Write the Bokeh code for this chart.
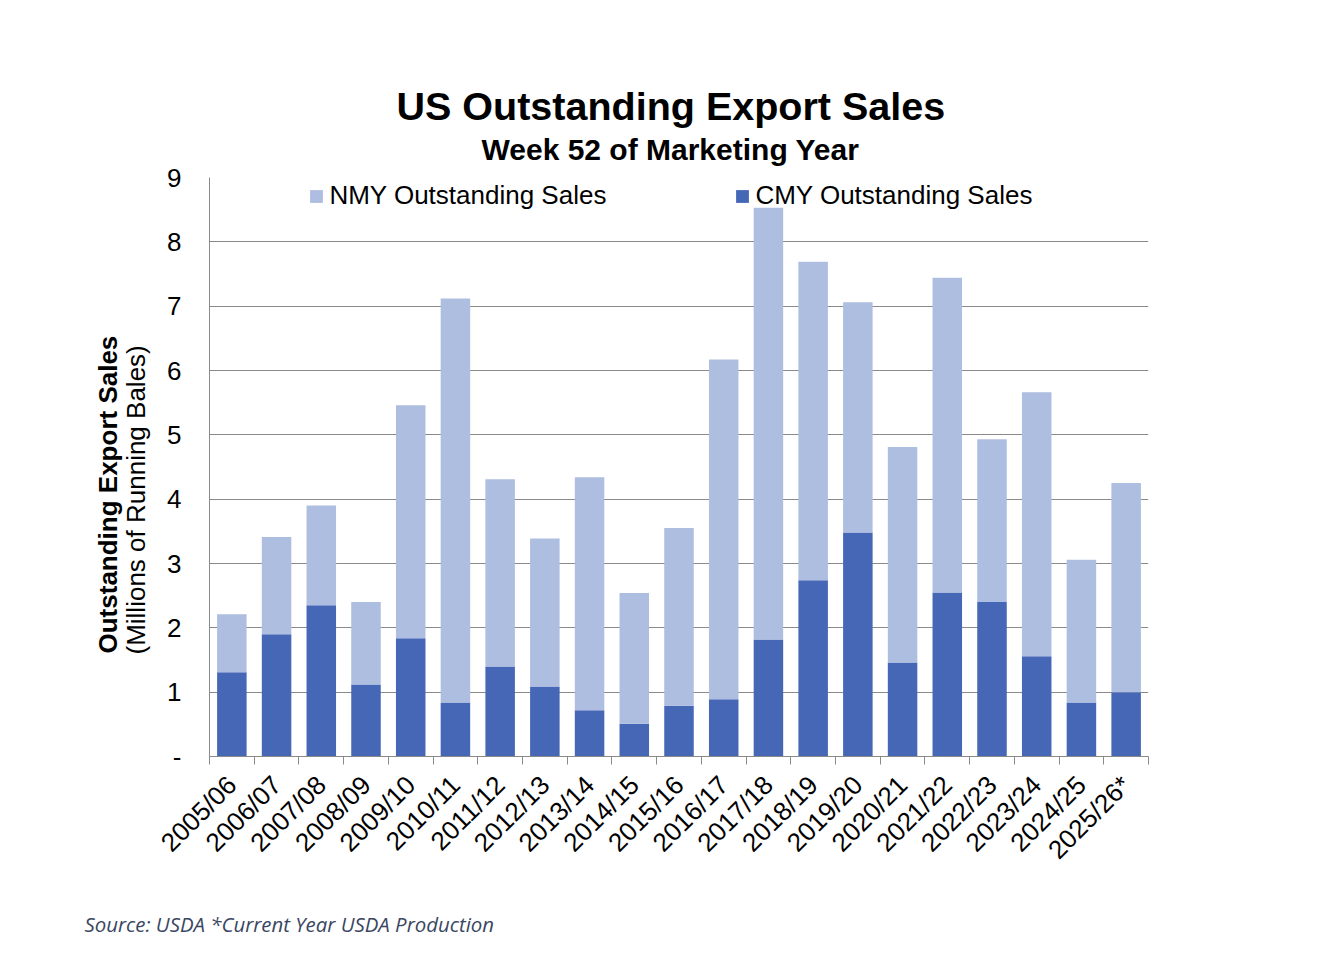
import math
from bokeh.plotting import figure
from bokeh.models import (ColumnDataSource, Range1d, FixedTicker, Legend, LegendItem, Title)
from bokeh.embed import file_html
from bokeh.resources import INLINE

# ---- data ----
years = ["2005/06", "2006/07", "2007/08", "2008/09", "2009/10", "2010/11", "2011/12",
         "2012/13", "2013/14", "2014/15", "2015/16", "2016/17", "2017/18", "2018/19",
         "2019/20", "2020/21", "2021/22", "2022/23", "2023/24", "2024/25", "2025/26*"]
cmy_sales = [1.31, 1.90, 2.35, 1.12, 1.84, 0.84, 1.40, 1.09, 0.72, 0.51, 0.79,
             0.89, 1.82, 2.74, 3.48, 1.46, 2.55, 2.40, 1.56, 0.84, 1.00]
nmy_sales = [0.90, 1.51, 1.55, 1.28, 3.62, 6.28, 2.91, 2.30, 3.62, 2.03, 2.76,
             5.28, 6.71, 4.95, 3.58, 3.35, 4.89, 2.53, 4.10, 2.22, 3.25]
y_ticks = [0, 1, 2, 3, 4, 5, 6, 7, 8, 9]
y_tick_labels = ["-", "1", "2", "3", "4", "5", "6", "7", "8", "9"]

DARK = "#4666B6"
LIGHT = "#AEBEE1"
GRID = "#8A8A8A"
FONT = "Liberation Sans"

xs = list(range(len(years)))
src = ColumnDataSource(dict(x=xs, cmy=cmy_sales, nmy=nmy_sales))

p = figure(frame_width=939, frame_height=579,
           x_range=Range1d(-0.5, len(years) - 0.5), y_range=Range1d(0, 9),
           output_backend="svg", toolbar_location=None,
           title="US Outstanding Export Sales",
           min_border_left=209, min_border_top=177, min_border_right=170,
           min_border_bottom=190)
p.outline_line_color = None
p.background_fill_color = "white"
p.border_fill_color = "white"

p.title.text_font = FONT
p.title.text_font_size = "39.5px"
p.title.text_font_style = "bold"
p.title.text_color = "black"
p.title.align = "left"
p.title.offset = 187
p.title.standoff = -18

rs = p.vbar_stack(["cmy", "nmy"], x="x", width=0.66, color=[DARK, LIGHT],
                  line_color=None, source=src)

# x axis: labels at category centres, ticks at category boundaries
p.xaxis.ticker = FixedTicker(ticks=xs, minor_ticks=[i - 0.5 for i in range(len(years) + 1)])
p.xaxis.major_label_overrides = {i: y for i, y in enumerate(years)}
p.xaxis.major_label_orientation = math.pi / 4
p.xaxis.major_tick_line_color = None
p.xaxis.major_tick_out = 0
p.xaxis.major_tick_in = 0
p.xaxis.minor_tick_line_color = GRID
p.xaxis.minor_tick_out = 8
p.xaxis.minor_tick_in = 0
p.xaxis.axis_line_color = GRID
p.xaxis.major_label_text_font = FONT
p.xaxis.major_label_text_font_size = "26px"
p.xaxis.major_label_text_color = "black"
p.xaxis.major_label_standoff = 16

# y axis
p.yaxis.ticker = FixedTicker(ticks=y_ticks)
p.yaxis.major_label_overrides = {t: l for t, l in zip(y_ticks, y_tick_labels)}
p.yaxis.major_tick_line_color = None
p.yaxis.major_tick_out = 0
p.yaxis.major_tick_in = 0
p.yaxis.minor_tick_line_color = None
p.yaxis.axis_line_color = GRID
p.yaxis.major_label_text_font = FONT
p.yaxis.major_label_text_font_size = "26px"
p.yaxis.major_label_text_color = "black"
p.yaxis.major_label_standoff = 28

# y axis titles (two lines, different weights)
p.add_layout(Title(text="(Millions of Running Bales)", align="left", offset=102,
                   standoff=27, text_font=FONT, text_font_size="26px",
                   text_font_style="normal", text_color="black"), "left")
p.add_layout(Title(text="Outstanding Export Sales", align="left", offset=103,
                   standoff=-35, text_font=FONT, text_font_size="26px",
                   text_font_style="bold", text_color="black"), "left")

p.xgrid.grid_line_color = None
p.ygrid.ticker = FixedTicker(ticks=y_ticks)
p.ygrid.grid_line_color = GRID
p.ygrid.grid_line_width = 1

# subtitle
p.add_layout(Title(text="Week 52 of Marketing Year", align="left", offset=272,
                   standoff=24, text_font=FONT, text_font_size="30px",
                   text_font_style="bold", text_color="black"), "above")

# source note
p.add_layout(Title(text="Source: USDA *Current Year USDA Production", align="left",
                   offset=-125, standoff=58, text_font="Open Sans",
                   text_font_style="italic", text_font_size="20.4px",
                   text_color="#3A4662"), "below")

# legend
legend = Legend(items=[LegendItem(label="NMY Outstanding Sales", renderers=[rs[1]]),
                       LegendItem(label="CMY Outstanding Sales", renderers=[rs[0]])],
                orientation="horizontal", location=(99.4, 545),
                glyph_width=16, glyph_height=16, label_standoff=5, spacing=128,
                padding=0, margin=0, border_line_color=None, background_fill_alpha=0,
                label_text_font=FONT, label_text_font_size="26px",
                label_text_color="black")
p.add_layout(legend, "center")

with open("out.html", "w") as f:
    f.write(file_html(p, INLINE))
